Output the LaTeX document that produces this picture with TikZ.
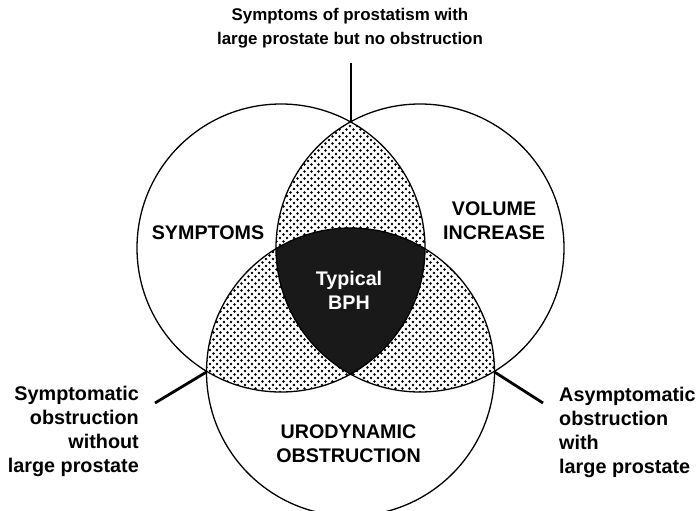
\documentclass[tikz,border=0pt]{standalone}
\usepackage{fontspec}
\setmainfont{Liberation Sans}
\usetikzlibrary{patterns.meta}

\tikzdeclarepattern{name=venndots,type=uncolored,
  bounding box={(-2pt,-2pt) and (5.5pt,5.5pt)},tile size={(7pt,7pt)},
  code={\fill (0pt,0pt) circle (1.4pt) (3.5pt,3.5pt) circle (1.4pt);}}

\begin{document}
\begin{tikzpicture}[x=1pt,y=-1pt,
  lbl/.style={font=\bfseries\fontsize{19.7}{24}\selectfont,align=center,inner sep=0pt},
  note/.style={font=\bfseries\fontsize{19.8}{24}\selectfont,inner sep=0pt},
  ring/.style={line width=1.3pt},
  leader/.style={line width=2.8pt}]
  \useasboundingbox (0,0) rectangle (699,511);
  \coordinate (s) at (281,248);
  \coordinate (v) at (420,248);
  \coordinate (u) at (350.5,372);
  % overlaps of two circles
  \begin{scope}
    \clip (s) circle (144pt);
    \fill[pattern=venndots] (v) circle (144pt) (u) circle (144pt);
  \end{scope}
  \begin{scope}
    \clip (v) circle (144pt);
    \fill[pattern=venndots] (u) circle (144pt);
  \end{scope}
  % all three
  \begin{scope}
    \clip (s) circle (144pt);
    \clip (v) circle (144pt);
    \fill[black!90] (u) circle (144pt);
  \end{scope}
  \foreach \c in {s,v,u} \draw[ring] (\c) circle (144pt);
  \node[lbl] (sy) at (208,233) {SYMPTOMS};
  \node[lbl] (vo) at (494,221) {VOLUME\\INCREASE};
  \node[lbl] (ur) at (348.5,444) {URODYNAMIC\\OBSTRUCTION};
  \node[lbl,text=white] (bph) at (349,290) {Typical\\BPH};
  \node[note,font=\bfseries\fontsize{16.9}{24}\selectfont,align=center] (top) at (350,28) {Symptoms of prostatism with\\large prostate but no obstruction};
  \node[note,align=right,anchor=east] (left) at (139,431) {Symptomatic\\obstruction\\without\\large prostate};
  \node[note,align=left,anchor=west] (right) at (559,432) {Asymptomatic\\obstruction\\with\\large prostate};
  \coordinate (tx) at (350.5,122);
  \coordinate (lx) at (206.5,372);
  \coordinate (rx) at (494.5,372);
  \coordinate (te) at (350.5,63);
  \coordinate (le) at (155,403);
  \coordinate (re) at (543,403);
  \draw[leader,line width=2pt] (tx)--(te);
  \foreach \a/\b in {lx/le,rx/re} \draw[leader] (\a)--(\b);
\end{tikzpicture}
\end{document}
